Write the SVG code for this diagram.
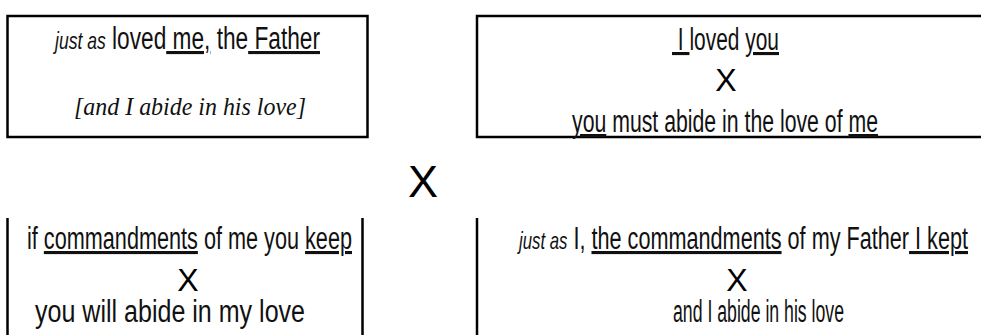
<svg xmlns="http://www.w3.org/2000/svg" width="981" height="335" viewBox="0 0 981 335">
<style>
.box{fill:none;stroke:#000;stroke-width:2.5}
.t{font-family:"Liberation Sans",Arial,sans-serif;font-size:31px;fill:#111}
.it{font-style:italic;font-size:24px}
.u{text-decoration:underline}
.x{font-family:"Liberation Sans",Arial,sans-serif;font-size:32px;fill:#000;text-anchor:middle}
.s{font-family:"Liberation Serif","Times New Roman",serif;font-style:italic;font-size:26px;fill:#111}
</style>
<rect width="981" height="335" fill="#fff"/>
<g id="node-father-loved-me">
<rect class="box" x="7.5" y="16" width="360" height="121"/>
<text class="t" x="55" y="49" textLength="265" lengthAdjust="spacingAndGlyphs"><tspan class="it">just as</tspan> loved<tspan class="u">&#160;me,</tspan> the<tspan class="u">&#160;Father</tspan></text>
<text class="s" x="74" y="115" textLength="232" lengthAdjust="spacingAndGlyphs">[and I abide in his love]</text>
</g>
<g id="node-i-loved-you">
<rect class="box" x="477" y="16" width="520" height="121"/>
<text class="t" x="672" y="50" textLength="107" lengthAdjust="spacingAndGlyphs"><tspan class="u">&#160;I&#160;</tspan>loved <tspan class="u">you</tspan></text>
<text class="x" x="726" y="91">X</text>
<text class="t" x="572" y="132" textLength="306" lengthAdjust="spacingAndGlyphs"><tspan class="u">you</tspan> must abide in the love of <tspan class="u">me</tspan></text>
</g>
<g id="connectors">
<text class="x" x="423" y="197" style="font-size:45px">X</text>
</g>
<g id="node-keep-commandments">
<path class="box" d="M7.5 218V340M362.5 218V340"/>
<text class="t" x="27" y="249" textLength="325" lengthAdjust="spacingAndGlyphs">if <tspan class="u">commandments</tspan> of me you <tspan class="u">keep</tspan></text>
<text class="x" x="188" y="291">X</text>
<text class="t" x="35" y="322" textLength="270" lengthAdjust="spacingAndGlyphs">you will abide in my love</text>
</g>
<g id="node-father-commandments-kept">
<path class="box" d="M477 218V340"/>
<text class="t" x="519" y="249" textLength="449" lengthAdjust="spacingAndGlyphs"><tspan class="it">just as</tspan> I, <tspan class="u">the commandments</tspan> of my Father<tspan class="u">&#160;I kept</tspan></text>
<text class="x" x="737" y="291">X</text>
<text class="t" x="673" y="322" textLength="171" lengthAdjust="spacingAndGlyphs">and I abide in his love</text>
</g>
</svg>
